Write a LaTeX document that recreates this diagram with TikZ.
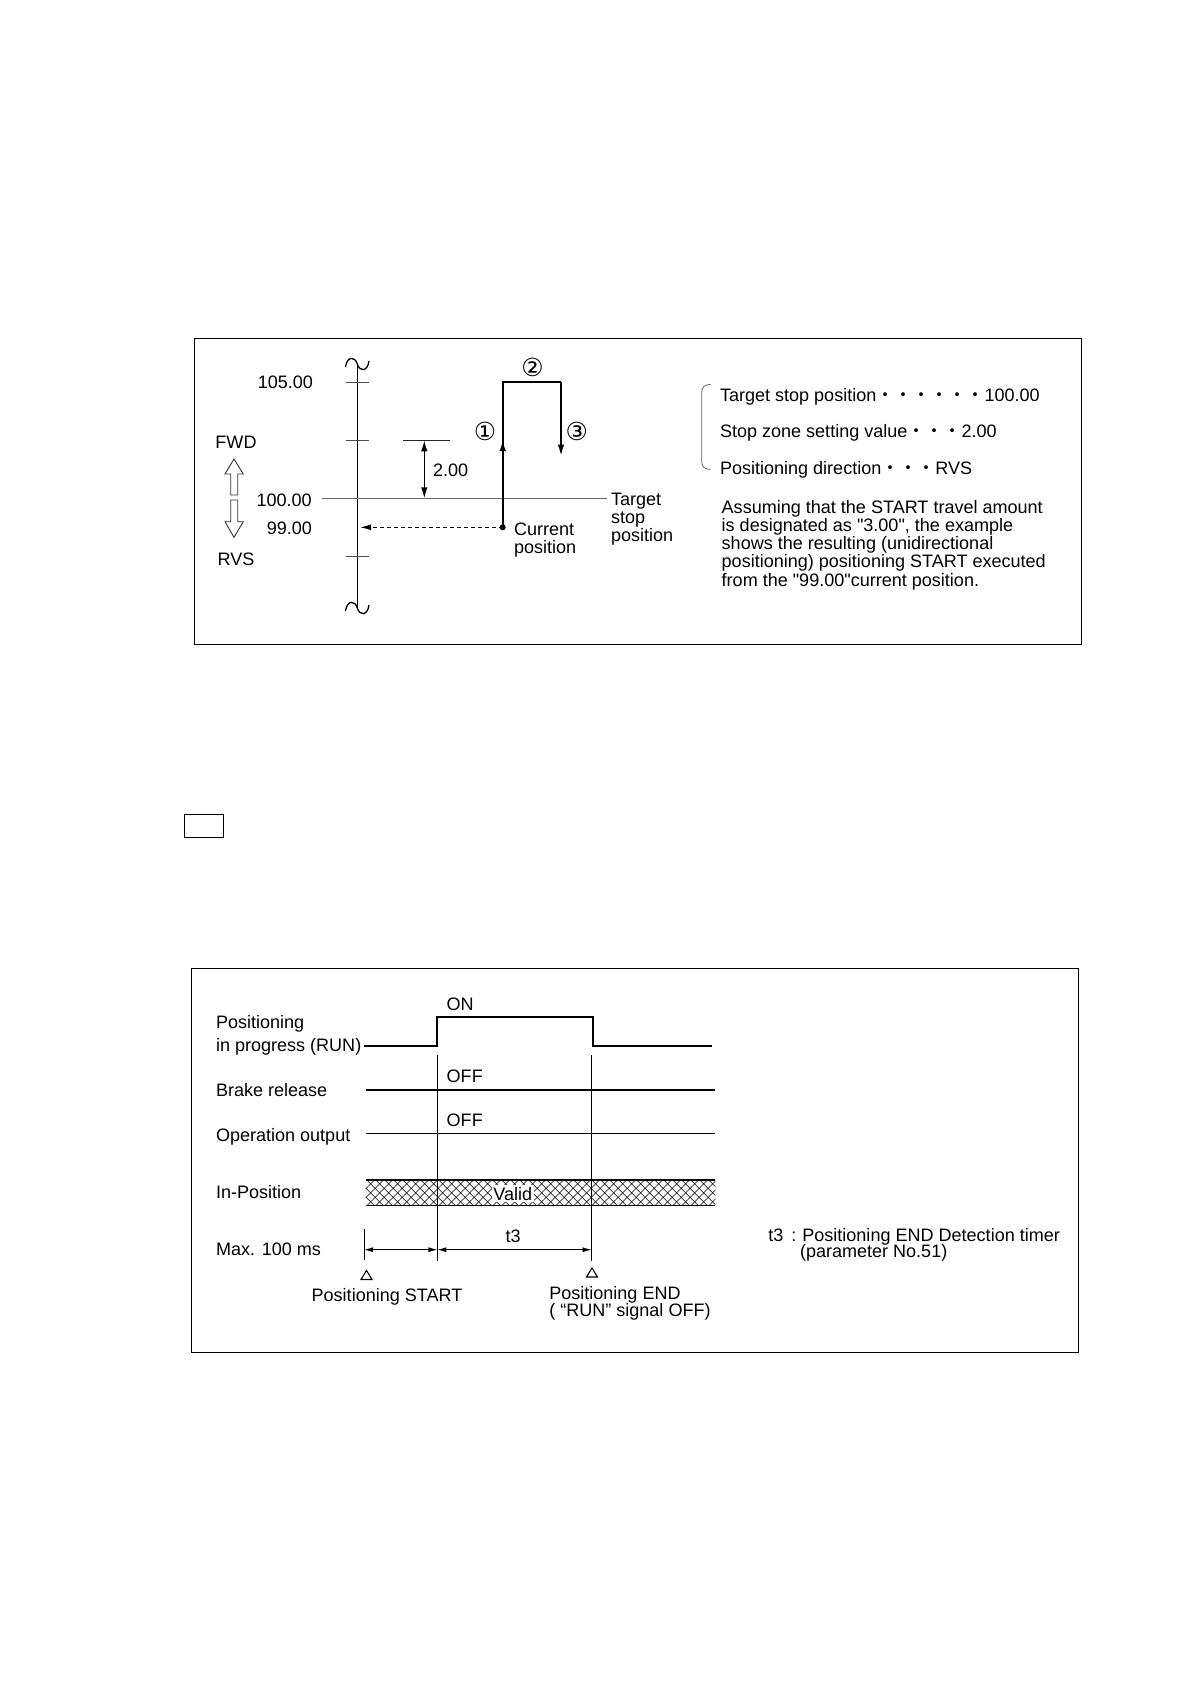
\documentclass[tikz,border=0pt]{standalone}
\usepackage{fontspec}
\setmainfont{Liberation Sans}[Ligatures=TeXOff]
\newfontfamily\cjk{Noto Sans CJK JP}
\newfontfamily\dvs{DejaVu Sans}
\usetikzlibrary{arrows.meta}
\newcommand\fs{\fontsize{18.1}{18.4}\selectfont}
\newcommand\cfs{\fontsize{25}{25}\selectfont}
\begin{document}
\begin{tikzpicture}[x=1bp,y=-1bp,
  txt/.style={inner sep=0pt, outer sep=0pt, font=\fs},
  circ/.style={inner sep=0pt, outer sep=0pt, font=\dvs\cfs},
  frame/.style={line width=1.3bp},
  axisln/.style={line width=1.3bp},
  tickln/.style={line width=1bp, black!70},
  pathln/.style={line width=1.6bp},
  sig/.style={line width=1.4bp},
  thinln/.style={line width=0.9bp},
  hatchln/.style={line width=0.6bp},
  tipA/.style={-{Latex[length=11bp,width=6.5bp]}},
  dtip/.style={{Latex[length=9bp,width=5bp]}-{Latex[length=9bp,width=5bp]}},
]
\useasboundingbox (0,0) rectangle (1191,1684);
\fill[white] (0,0) rectangle (1191,1684);

% ================= TOP DIAGRAM =================
\draw[frame] (194.5,338.3) rectangle (1081.7,644.3);

% axis
\coordinate (axT) at (357.3,364);
\coordinate (axB) at (357.3,608);
\draw[axisln] (axT) -- (axB);
\draw[axisln] (345.5,367) .. controls (347,356) and (355,356) .. (axT) .. controls (359.6,372) and (367.5,372) .. (369,361);
\draw[axisln] (345.5,611) .. controls (347,600) and (355,600) .. (axB) .. controls (359.6,616) and (367.5,616) .. (369,605);

% ticks
\draw[tickln] (346,382.3) -- (369,382.3);
\draw[tickln] (346,440.3) -- (369,440.3);
\draw[tickln] (346,556.7) -- (369,556.7);
\draw[line width=1bp, black!60] (322,498.3) -- (606.8,498.3);

% axis labels
\node[txt, anchor=base east] (l105) at (313,388) {105.00};
\node[txt, anchor=base] (fwd) at (236,448) {FWD};
\node[txt, anchor=base east] (l100) at (311.7,506.5) {100.00};
\node[txt, anchor=base east] (l99) at (312,534) {99.00};
\node[txt, anchor=base] (rvs) at (236,565.5) {RVS};

% hollow arrows
\draw[line width=0.9bp, black!80] (230.7,495) -- (230.7,474) -- (225,474) -- (234,459) -- (243.3,474) -- (237.7,474) -- (237.7,495) -- cycle;
\draw[line width=0.9bp, black!80] (230.7,500) -- (237.7,500) -- (237.7,521.7) -- (243.3,521.7) -- (234,537.3) -- (225,521.7) -- (230.7,521.7) -- cycle;

% stop zone 2.00
\coordinate (zT) at (424.3,440.3);
\coordinate (zB) at (424.3,498.3);
\draw[line width=1.1bp, black!85] (403,440.3) -- (450,440.3);
\draw[line width=1.4bp, {Latex[length=11bp,width=6.5bp]}-{Latex[length=11bp,width=6.5bp]}] (zT) -- (zB);
\node[txt, anchor=base west] (l2) at (433,476.5) {2.00};

% travel path
\coordinate (cur) at (502.7,527.3);
\coordinate (mid1) at (502.7,440);
\coordinate (top1) at (502.7,381.7);
\coordinate (top2) at (561,381.7);
\coordinate (end3) at (561,455.7);
\coordinate (axD) at (360,527.3);
\fill (cur) circle (3bp);
\draw[pathln, tipA] (cur) -- (mid1);
\draw[pathln] (502.7,447) -- (top1) -- (top2);
\draw[pathln, tipA] (top2) -- (end3);
\draw[line width=1.2bp, dash pattern=on 4bp off 3bp, -{Latex[length=11bp,width=6bp]}] (cur) -- (axD);

\node[circ] (c1) at (485,431) {①};
\node[circ] (c2) at (532.5,367.7) {②};
\node[circ] (c3) at (576.7,431) {③};

\node[txt, anchor=base west] (cp1) at (514,535.3) {Current};
\node[txt, anchor=base west] (cp2) at (514,553.3) {position};
\node[txt, anchor=base west] (ts1) at (611,505) {Target};
\node[txt, anchor=base west] (ts2) at (611,523) {stop};
\node[txt, anchor=base west] (ts3) at (611,541) {position};

% bracket and settings
\draw[line width=0.8bp, black!60] (710.5,384.3) .. controls (704,385) and (701.7,387) .. (701.7,393) -- (701.7,461) .. controls (701.7,467) and (704,469) .. (710.5,469.5);
\node[txt, anchor=base west] (s1) at (720,401.3) {Target stop position{\cjk ・・・・・・}100.00};
\node[txt, anchor=base west] (s2) at (720,437.7) {Stop zone setting value{\cjk ・・・}2.00};
\node[txt, anchor=base west] (s3) at (720,474.3) {Positioning direction{\cjk ・・・}RVS};

\node[txt, anchor=base west] (p1) at (721.7,513.3) {Assuming that the START travel amount};
\node[txt, anchor=base west] (p2) at (721.7,531.5) {is designated as "3.00", the example};
\node[txt, anchor=base west] (p3) at (721.7,549.7) {shows the resulting (unidirectional};
\node[txt, anchor=base west] (p4) at (721.7,567.9) {positioning) positioning START executed};
\node[txt, anchor=base west] (p5) at (721.7,586.1) {from the "99.00"current position.};

% ================= SMALL BOX =================
\draw[frame] (184.3,814.3) rectangle (223.3,837.3);

% ================= BOTTOM DIAGRAM =================
\draw[frame] (191.2,968.3) rectangle (1078.3,1352.3);

% RUN signal
\draw[sig] (364,1046) -- (437,1046) -- (437,1017) -- (593,1017) -- (593,1046) -- (712,1046);
\node[txt, anchor=base west] (run1) at (216,1028.5) {Positioning};
\node[txt, anchor=base west] (run2) at (216,1051) {in progress (RUN)};
\node[txt, anchor=base west] (on) at (446.7,1010) {ON};

% vertical guides
\draw[thinln] (437.4,1055) -- (437.4,1261);
\draw[thinln] (591.5,1055) -- (591.5,1261);

% brake / operation
\draw[sig] (365.8,1090) -- (714.6,1090);
\draw[sig] (365.8,1133.3) -- (714.6,1133.3);
\node[txt, anchor=base west] (br) at (216,1096.7) {Brake release};
\node[txt, anchor=base west] (off1) at (446.7,1082) {OFF};
\node[txt, anchor=base west] (op) at (216,1141.7) {Operation output};
\node[txt, anchor=base west] (off2) at (446.7,1126.7) {OFF};

% in-position band
\begin{scope}
\clip (365.8,1180) rectangle (715.3,1205.7);
\foreach \i in {0,...,43} {
  \draw[hatchln] (339.8+9*\i,1205.7) -- ++(25.7,-25.7);
  \draw[hatchln] (339.8+9*\i,1180) -- ++(25.7,25.7);
}
\end{scope}
\draw[sig] (365.8,1180) -- (715.3,1180);
\draw[sig] (365.8,1205.7) -- (715.3,1205.7);
\draw[thinln] (437.4,1180) -- (437.4,1205.7);
\draw[thinln] (591.5,1180) -- (591.5,1205.7);
\node[txt, anchor=base, fill=white, inner sep=1.5pt] (valid) at (512.7,1200) {Valid};
\node[txt, anchor=base west] (inpos) at (216,1198.3) {In-Position};

% timing
\draw[thinln] (364,1229) -- (364,1260);
\coordinate (tA) at (364,1249.7);
\coordinate (tB) at (437.4,1249.7);
\coordinate (tC) at (591.5,1249.7);
\draw[thinln, dtip] (tA) -- (tB);
\draw[thinln, dtip] (tB) -- (tC);
\node[txt, anchor=base west] (max) at (216,1255.7) {Max. 100 ms};
\node[txt, anchor=base] (t3) at (513.2,1242.3) {t3};

\draw[line width=1.1bp] (361,1279.5) -- (372,1279.5) -- (366.5,1270.5) -- cycle;
\draw[line width=1.1bp] (586.5,1277) -- (597.5,1277) -- (592,1268) -- cycle;
\node[txt, anchor=base] (pstart) at (387,1301.7) {Positioning START};
\node[txt, anchor=base west] (pend1) at (549.3,1299.3) {Positioning END};
\node[txt, anchor=base west] (pend2) at (549.3,1316.7) {( “RUN” signal OFF)};

\node[txt, anchor=base west] (note1) at (768.3,1241) {t3\hspace{8bp}:\hspace{6bp}Positioning END Detection timer};
\node[txt, anchor=base west] (note2) at (800,1257.5) {(parameter No.51)};
\end{tikzpicture}
\end{document}
